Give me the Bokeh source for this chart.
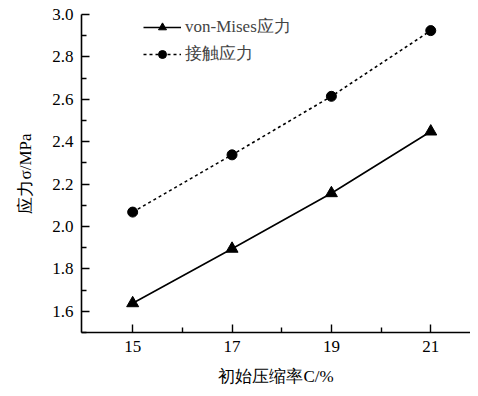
from bokeh.plotting import figure
from bokeh.embed import file_html
from bokeh.resources import INLINE
from bokeh.models import Range1d, FixedTicker, NumeralTickFormatter

compression = [15, 17, 19, 21]
von_mises = [1.638, 1.895, 2.157, 2.448]
contact = [2.068, 2.338, 2.614, 2.924]
x_ticks = [15, 17, 19, 21]
y_ticks = [1.6, 1.8, 2.0, 2.2, 2.4, 2.6, 2.8, 3.0]

FONT = "'Times New Roman', 'Liberation Serif', serif"

p = figure(width=470, height=388, output_backend="svg", toolbar_location=None,
           x_range=Range1d(13.97, 21.8), y_range=Range1d(1.5, 3.0),
           min_border_left=81, min_border_right=0, min_border_top=14, min_border_bottom=51)
p.outline_line_color = None
p.grid.grid_line_color = None
p.background_fill_color = "white"

p.line(compression, von_mises, line_color="black", line_width=1.6, legend_label="von-Mises应力")
p.scatter(compression, von_mises, marker="triangle", size=12, color="black", legend_label="von-Mises应力")
p.line(compression, contact, line_color="black", line_width=1.6, line_dash="3 3", legend_label="接触应力")
p.scatter(compression, contact, marker="circle", size=10, color="black", legend_label="接触应力")

for ax in (p.xaxis[0], p.yaxis[0]):
    ax.axis_line_width = 1.6
    ax.major_tick_line_width = 1.4
    ax.minor_tick_line_width = 1.4
    ax.major_tick_in = 8
    ax.major_tick_out = 0
    ax.minor_tick_in = 5
    ax.minor_tick_out = 0
    ax.major_label_text_font = FONT
    ax.major_label_text_font_size = "17px"
    ax.major_label_text_color = "black"
    ax.axis_label_text_font = FONT
    ax.axis_label_text_font_size = "17px"
    ax.axis_label_text_font_style = "normal"
    ax.axis_label_text_color = "black"
    ax.major_label_standoff = 8

p.xaxis.ticker = FixedTicker(ticks=x_ticks, minor_ticks=[16, 18, 20])
p.yaxis.ticker = FixedTicker(ticks=y_ticks, minor_ticks=[1.5, 1.7, 1.9, 2.1, 2.3, 2.5, 2.7, 2.9])
p.yaxis.formatter = NumeralTickFormatter(format="0.0")
p.xaxis.axis_label = "初始压缩率C/%"
p.yaxis.axis_label = "应力σ/MPa"
p.xaxis.axis_label_standoff = 12
p.yaxis.axis_label_standoff = 14

lg = p.legend[0]
lg.location = (58, 263)
lg.border_line_alpha = 0
lg.background_fill_alpha = 0
lg.label_text_font = FONT
lg.label_text_font_size = "17px"
lg.glyph_width = 38
lg.glyph_height = 20
lg.label_height = 20
lg.spacing = 4
lg.padding = 4
lg.margin = 0
lg.label_standoff = 4

open("out.html", "w").write(file_html(p, INLINE))
